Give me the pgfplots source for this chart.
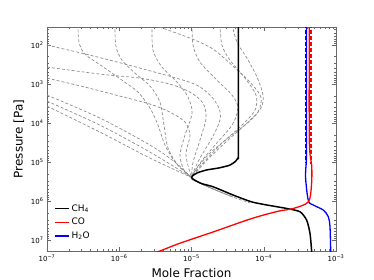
\documentclass[border=0pt]{standalone}
\usepackage{fontspec}
\setmainfont{DejaVu Sans}
\usepackage{pgfplots}
\pgfplotsset{compat=1.18}
\definecolor{gr}{RGB}{140,140,140}
\definecolor{frm}{RGB}{105,105,105}
\pgfplotsset{gd/.style={gr, dash pattern=on 3pt off 2pt, line width=0.7pt, smooth, tension=0.5, forget plot}}
\begin{document}
\begin{tikzpicture}
\begin{axis}[
 scale only axis, width=289bp, height=224bp,
 xmode=log, ymode=log, log basis x=10, log basis y=10, y dir=reverse,
 xmin=1e-7, xmax=1e-3, ymin=35, ymax=1.9e7,
 xticklabel={10\textsuperscript{−\pgfmathparse{int(round(-\tick))}\pgfmathresult}},
 yticklabel={10\textsuperscript{\pgfmathparse{int(round(\tick))}\pgfmathresult}},
 tick label style={font=\fontsize{7}{8}\selectfont},
 xlabel={Mole Fraction}, ylabel={Pressure [Pa]},
 label style={font=\fontsize{12}{14}\selectfont},
 axis line style={frm}, tick style={frm},
 major tick length=4bp, minor tick length=2bp,
 legend style={draw=none, fill=none, at={(0.015,0.03)}, anchor=south west, font=\fontsize{9}{11}\selectfont, row sep=1.5bp},
 legend cell align=left,
 legend image code/.code={\draw[#1, line width=1.1pt, solid] (0bp,0bp) -- (14bp,0bp);},
]
% grey dashed model profiles
\addplot[gd] coordinates {(1e-7,102) (3.94e-7,184) (1.94e-6,395) (1.02e-5,957) (1.80e-5,1940) (2.40e-5,4178) (2.48e-5,8470) (1.92e-5,2.45e4) (1.31e-5,7.96e4) (1e-5,2.5e5) (1.15e-5,3.1e5) (1.99e-5,4.9e5) (3.75e-5,7.9e5)};
\addplot[gd] coordinates {(2.69e-7,30) (2.77e-7,85) (3.36e-7,173) (5.77e-7,351) (1.09e-6,802) (1.82e-6,1625) (2.67e-6,4178) (3.44e-6,1.14e4) (4.30e-6,3.70e4) (6.10e-6,1.07e5) (1e-5,2.5e5)};
\addplot[gd] coordinates {(8.7e-7,30) (9.0e-7,108) (1.09e-6,247) (1.65e-6,531) (2.67e-6,1140) (3.66e-6,2931) (4.16e-6,1.14e4) (4.73e-6,4.42e4) (6.5e-6,1.2e5) (1e-5,2.5e5)};
\addplot[gd] coordinates {(2.84e-6,30) (2.93e-6,137) (3.91e-6,372) (6.5e-6,957) (8.95e-6,2183) (1.02e-5,5598) (8.13e-6,2.05e4) (6.93e-6,6.67e4) (7.87e-6,1.61e5) (1e-5,2.5e5)};
\addplot[gd] coordinates {(2.27e-6,26) (9.53e-6,67.4) (1.99e-5,129) (3.75e-5,351) (6.45e-5,902) (9.16e-5,2183) (8.32e-5,5284) (5.5e-5,1.14e4) (3.2e-5,2.45e4) (1.8e-5,5.93e4) (1.19e-5,1.43e5) (1e-5,2.5e5) (1.15e-5,3.1e5) (1.99e-5,4.9e5) (3.75e-5,7.9e5) (6.45e-5,1.12e6)};
\addplot[gd] coordinates {(1.02e-5,30) (1.05e-5,102) (1.31e-5,277) (2.25e-5,802) (3.64e-5,1940) (4.4e-5,4178) (3.64e-5,1.14e4) (2.11e-5,3.7e4) (1.31e-5,1.07e5) (1e-5,2.5e5)};
\addplot[gd] coordinates {(2.48e-5,30) (2.64e-5,102) (3.41e-5,247) (5.5e-5,713) (7.82e-5,1940) (7.57e-5,4699) (5.0e-5,1.14e4) (2.64e-5,3.29e4) (1.44e-5,1.07e5) (1e-5,2.5e5) (1.15e-5,3.1e5) (1.99e-5,4.9e5)};
\addplot[gd] coordinates {(3.64e-5,30) (4.26e-5,85) (5.86e-5,219) (8.07e-5,672) (9.77e-5,1940) (9.16e-5,4178) (6.05e-5,9528) (3.2e-5,2.75e4) (1.64e-5,8.96e4) (1e-5,2.5e5)};
\addplot[gd] coordinates {(1e-7,372) (5.42e-7,562) (1.94e-6,713) (5.04e-6,1014) (9.53e-6,1625) (1.44e-5,3105) (1.59e-5,7516) (1.31e-5,2.75e4) (1.05e-5,1.01e5) (1e-5,2.5e5)};
\addplot[gd] coordinates {(1e-7,713) (3.36e-7,1210) (1.02e-6,2056) (2.67e-6,3296) (5.04e-6,5284) (8.13e-6,9528) (9.53e-6,2.05e4) (8.39e-6,6.67e4) (1e-5,2.5e5)};
\addplot[gd] coordinates {(1e-7,1940) (5.42e-7,7516) (2.67e-6,3.7e4) (5.91e-6,1.01e5) (1e-5,2.5e5) (1.15e-5,3.1e5) (1.99e-5,4.9e5) (3.75e-5,7.9e5)};
\addplot[gd] coordinates {(1e-7,2761) (5.42e-7,1.14e4) (2.67e-6,5.59e4) (1e-5,2.5e5)};
\addplot[gd] coordinates {(1e-7,3707) (5.42e-7,1.72e4) (2.67e-6,7.96e4) (1e-5,2.5e5) (1.15e-5,3.1e5) (1.99e-5,4.9e5)};
% CH4
\addplot[black, line width=1.5pt, smooth, tension=0.4, forget plot] coordinates {(4.45e-5,30) (4.45e-5,5.0e4) (4.4e-5,7.9e4) (4.1e-5,9.5e4) (3.41e-5,1.2e5) (2.4e-5,1.42e5) (1.62e-5,1.6e5) (1.2e-5,1.9e5) (1.02e-5,2.3e5) (1.01e-5,2.55e5) (1.1e-5,2.9e5) (1.4e-5,3.6e5) (2.00e-5,4.32e5) (3.79e-5,7.05e5) (6.81e-5,1.05e6) (1.10e-4,1.26e6) (2.08e-4,1.55e6) (3.18e-4,1.88e6) (3.93e-4,3.09e6) (4.37e-4,6.76e6) (4.61e-4,2.0e7)};
% H2O
\addplot[blue, line width=1.3pt, smooth, tension=0.5, forget plot] coordinates {(3.91e-4,30) (3.91e-4,5.0e4) (3.78e-4,2.19e5) (4.14e-4,9.6e5) (4.85e-4,1.26e6) (6.67e-4,1.70e6) (7.82e-4,2.51e6) (8.26e-4,4.57e6) (8.45e-4,2.0e7)};
\addplot[blue, line width=2pt, dash pattern=on 4pt off 2pt, forget plot] coordinates {(3.85e-4,30) (3.85e-4,1.0e5)};
% CO
\addplot[red, line width=2pt, dash pattern=on 4pt off 2pt, forget plot] coordinates {(4.5e-4,30) (4.5e-4,1.1e5)};
\addplot[red, line width=1.3pt, smooth, tension=0.5, forget plot] coordinates {(4.27e-4,30) (4.27e-4,2.75e4) (4.61e-4,1.2e5) (4.58e-4,3.9e5) (4.14e-4,1.05e6) (2.56e-4,1.55e6) (1.68e-4,1.78e6) (9.86e-5,2.29e6) (5.8e-5,3.09e6) (2.0e-5,6.17e6) (6.93e-6,1.2e7) (3.66e-6,1.9e7) (2.67e-6,2.3e7)};
\addlegendimage{black}
\addlegendentry{CH\textsubscript{4}}
\addlegendimage{red}
\addlegendentry{CO}
\addlegendimage{blue}
\addlegendentry{H\textsubscript{2}O}
\end{axis}
\pgfresetboundingbox
\path[use as bounding box] (-47bp,-29bp) rectangle (327bp,251bp);
\end{tikzpicture}
\end{document}
